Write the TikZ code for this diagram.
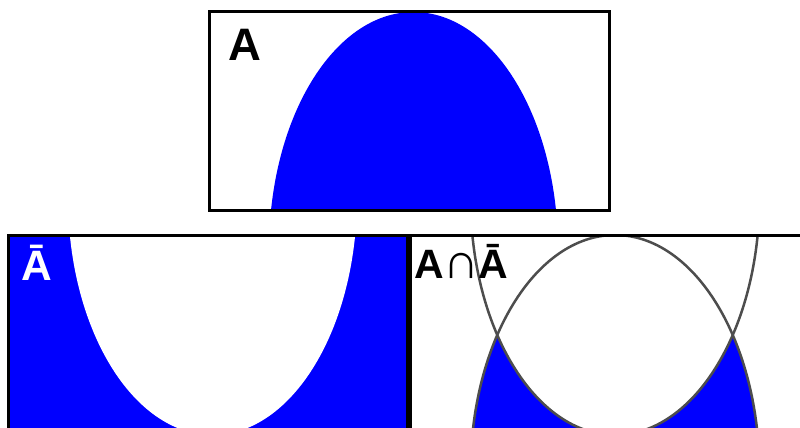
\documentclass[tikz,border=0pt]{standalone}
\usepackage{fontspec}
\setmainfont{Liberation Sans}
\definecolor{fillblue}{HTML}{0000FF}
\definecolor{outline}{HTML}{4D4D4D}
\begin{document}
\begin{tikzpicture}[x=1pt,y=-1pt,
  frame/.style={draw=black,line width=3pt},
  ellout/.style={draw=outline,line width=2.5pt},
  lab/.style={inner sep=0pt,anchor=base west}]
\useasboundingbox (0,0) rectangle (800,428);
\begin{scope}
\clip (0,0) rectangle (800,428);
% top panel: A
\begin{scope}
  \clip (209,12) rectangle (609,210);
  \fill[fillblue] (413.5,250) ellipse [x radius=144.5pt, y radius=238pt];
\end{scope}
\draw[frame] (209,12) rectangle (609,210);
\node[lab] (labA) at (228,60) {\fontsize{45.5}{50}\selectfont\bfseries A};
% bottom left panel: complement
\fill[fillblue] (8,235) rectangle (407,433);
\begin{scope}
  \clip (8,235) rectangle (407,433);
  \fill[white] (212.5,197) ellipse [x radius=144.5pt, y radius=238pt];
\end{scope}
\draw[frame] (8,235) rectangle (407,433);
\node[lab,text=white] (labAc) at (21.5,280) {\fontsize{42.5}{48}\selectfont\bfseries Ā};
% bottom right panel: intersection
\begin{scope}
  \clip (410,235) rectangle (810,433);
  \fill[fillblue] (615,473) ellipse [x radius=144.5pt, y radius=238pt];
  \fill[white] (615,197) ellipse [x radius=144.5pt, y radius=238pt];
  \draw[ellout] (615,473) ellipse [x radius=144.5pt, y radius=238pt];
  \draw[ellout] (615,197) ellipse [x radius=144.5pt, y radius=238pt];
\end{scope}
\draw[frame] (410,235) rectangle (810,433);
\node[lab] (labI) at (414.5,278) {\fontsize{41}{45}\selectfont\bfseries A\hspace{-1pt}{\mdseries\fontsize{50}{50}\selectfont∩}\hspace{-0.5pt}Ā};
\end{scope}
\end{tikzpicture}
\end{document}
